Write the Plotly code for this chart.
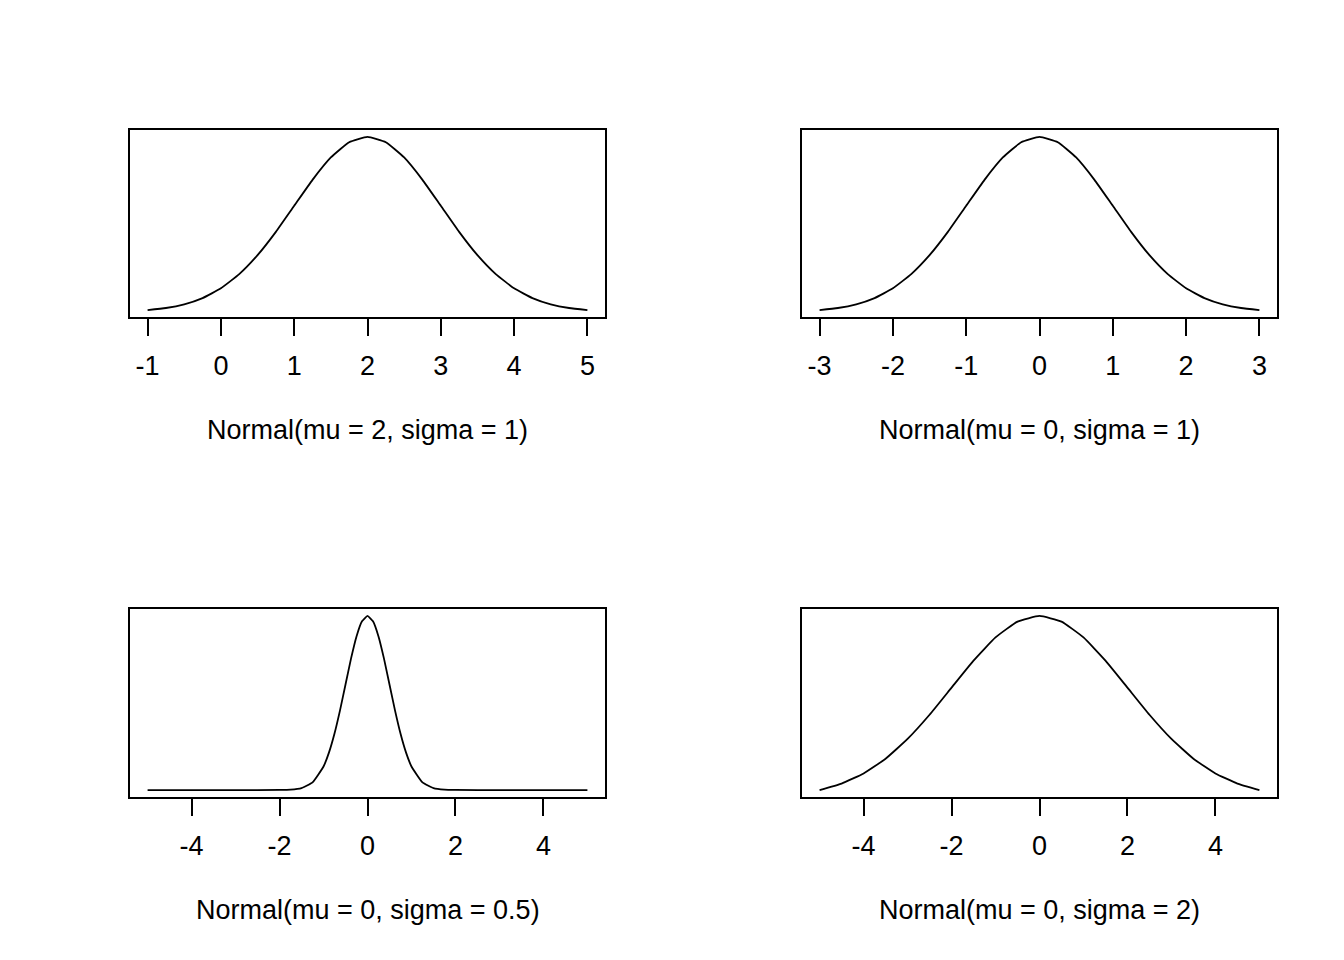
import plotly.graph_objects as go

# Normal densities (x, density)
x_mu2 = [-1.0, -0.75, -0.5, -0.25, 0.0, 0.25, 0.5, 0.75, 1.0, 1.25, 1.5, 1.75, 2.0,
         2.25, 2.5, 2.75, 3.0, 3.25, 3.5, 3.75, 4.0, 4.25, 4.5, 4.75, 5.0]
y_mu2 = [0.0044, 0.0091, 0.0175, 0.0317, 0.0540, 0.0863, 0.1295, 0.1826, 0.2420, 0.3011,
         0.3521, 0.3867, 0.3989, 0.3867, 0.3521, 0.3011, 0.2420, 0.1826, 0.1295, 0.0863,
         0.0540, 0.0317, 0.0175, 0.0091, 0.0044]

x_mu0 = [-3.0, -2.75, -2.5, -2.25, -2.0, -1.75, -1.5, -1.25, -1.0, -0.75, -0.5, -0.25, 0.0,
         0.25, 0.5, 0.75, 1.0, 1.25, 1.5, 1.75, 2.0, 2.25, 2.5, 2.75, 3.0]
y_mu0 = [0.0044, 0.0091, 0.0175, 0.0317, 0.0540, 0.0863, 0.1295, 0.1826, 0.2420, 0.3011,
         0.3521, 0.3867, 0.3989, 0.3867, 0.3521, 0.3011, 0.2420, 0.1826, 0.1295, 0.0863,
         0.0540, 0.0317, 0.0175, 0.0091, 0.0044]

x_sd05 = [-5.0, -3.0, -2.0, -1.75, -1.5, -1.25, -1.0, -0.875, -0.75, -0.625, -0.5, -0.375,
          -0.25, -0.125, 0.0, 0.125, 0.25, 0.375, 0.5, 0.625, 0.75, 0.875, 1.0, 1.25, 1.5,
          1.75, 2.0, 3.0, 5.0]
y_sd05 = [0.0, 0.0, 0.0003, 0.0017, 0.0089, 0.0350, 0.1080, 0.1726, 0.2590, 0.3653, 0.4839,
          0.6022, 0.7041, 0.7734, 0.7979, 0.7734, 0.7041, 0.6022, 0.4839, 0.3653, 0.2590,
          0.1726, 0.1080, 0.0350, 0.0089, 0.0017, 0.0003, 0.0, 0.0]

x_sd2 = [-5.0, -4.5, -4.0, -3.5, -3.0, -2.5, -2.0, -1.5, -1.0, -0.5, 0.0, 0.5, 1.0, 1.5,
         2.0, 2.5, 3.0, 3.5, 4.0, 4.5, 5.0]
y_sd2 = [0.0088, 0.0159, 0.0270, 0.0431, 0.0648, 0.0913, 0.1210, 0.1506, 0.1760, 0.1933,
         0.1995, 0.1933, 0.1760, 0.1506, 0.1210, 0.0913, 0.0648, 0.0431, 0.0270, 0.0159,
         0.0088]

ticks_mu2 = [-1, 0, 1, 2, 3, 4, 5]
ticks_mu0 = [-3, -2, -1, 0, 1, 2, 3]
ticks_wide = [-4, -2, 0, 2, 4]

titles = ["Normal(mu = 2, sigma = 1)", "Normal(mu = 0, sigma = 1)",
          "Normal(mu = 0, sigma = 0.5)", "Normal(mu = 0, sigma = 2)"]

W, H = 1344, 960
OFF = 8  # page body margin
FONT = "Liberation Sans, Arial, sans-serif"
FS = 27
LW = 1.8

# panel boxes in screen pixels: (left, right, top, bottom)
boxes = [(130, 605, 130, 317), (802, 1277, 130, 317),
         (130, 605, 609, 797), (802, 1277, 609, 797)]
title_y = [430, 430, 910, 910]
panels = [(x_mu2, y_mu2, ticks_mu2), (x_mu0, y_mu0, ticks_mu0),
          (x_sd05, y_sd05, ticks_wide), (x_sd2, y_sd2, ticks_wide)]

fig = go.Figure()
layout = dict(width=W, height=H, margin=dict(l=0, r=0, t=0, b=0),
              paper_bgcolor="white", plot_bgcolor="white", showlegend=False,
              font=dict(family=FONT, size=FS, color="black"))
annotations = []

for i, ((xs, ys, tv), (l, r, t, b)) in enumerate(zip(panels, boxes)):
    n = "" if i == 0 else str(i + 1)
    l, r, t, b = l - OFF, r - OFF, t - OFF, b - OFF
    fig.add_trace(go.Scatter(x=xs, y=ys, mode="lines", xaxis="x" + n, yaxis="y" + n,
                             line=dict(color="black", width=LW, shape="spline", smoothing=0.4),
                             hoverinfo="skip"))
    dx = (max(xs) - min(xs)) * 0.04
    dy = (max(ys) - min(ys)) * 0.04
    layout["xaxis" + n] = dict(
        domain=[l / W, r / W], anchor="y" + n,
        range=[min(xs) - dx, max(xs) + dx],
        tickvals=tv, ticktext=[str(v) for v in tv],
        ticks="outside", ticklen=17, tickwidth=LW, tickcolor="black",
        ticklabelstandoff=7, tickfont=dict(size=FS),
        showline=True, mirror=True, linecolor="black", linewidth=LW,
        showgrid=False, zeroline=False, fixedrange=True)
    layout["yaxis" + n] = dict(
        domain=[1 - b / H, 1 - t / H], anchor="x" + n,
        range=[min(ys) - dy, max(ys) + dy],
        showticklabels=False, ticks="",
        showline=True, mirror=True, linecolor="black", linewidth=LW,
        showgrid=False, zeroline=False, fixedrange=True)
    annotations.append(dict(text=titles[i], xref="paper", yref="paper",
                            x=(l + r) / 2 / W, y=1 - (title_y[i] - OFF) / H,
                            xanchor="center", yanchor="middle", showarrow=False,
                            font=dict(family=FONT, size=FS, color="black")))

layout["annotations"] = annotations
fig.update_layout(**layout)
fig.write_html("out.html")
